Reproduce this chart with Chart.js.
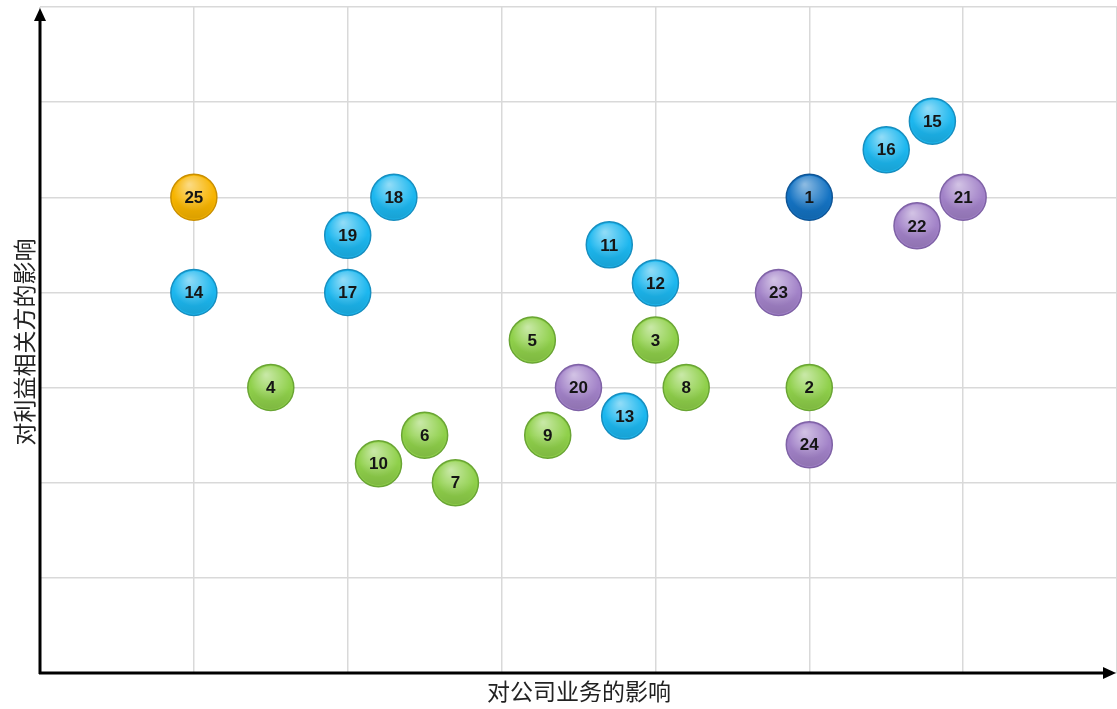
<!DOCTYPE html>
<html>
<head>
<meta charset="utf-8">
<script src="https://cdn.jsdelivr.net/npm/chart.js@4.4.0/dist/chart.umd.min.js"></script>
<style>
  html, body { margin: 0; padding: 0; background: #fff; }
  #wrap { width: 1117px; height: 709px; position: relative; }
</style>
</head>
<body>
<div id="wrap"><canvas id="matrix"></canvas></div>
<script>
// --------------------
// Data
// --------------------
const ids    = [1, 2, 3, 4, 5, 6, 7, 8, 9, 10, 11, 12, 13, 14, 15, 16, 17, 18, 19, 20, 21, 22, 23, 24, 25];
const xVals  = [5, 5, 4, 1.5, 3.2, 2.5, 2.7, 4.2, 3.3, 2.2, 3.7, 4, 3.8, 1, 5.8, 5.5, 2, 2.3, 2, 3.5, 6, 5.7, 4.8, 5, 1];
const yVals  = [5, 3, 3.5, 3, 3.5, 2.5, 2, 3, 2.5, 2.2, 4.5, 4.1, 2.7, 4, 5.8, 5.5, 4, 5, 4.6, 3, 5, 4.7, 4, 2.4, 5];
const groups = ["dark", "green", "green", "green", "green", "green", "green", "green", "green", "green",
                "cyan", "cyan", "cyan", "cyan", "cyan", "cyan", "cyan", "cyan", "cyan",
                "purple", "purple", "purple", "purple", "purple", "orange"];
const xTitle = "对公司业务的影响";
const yTitle = "对利益相关方的影响";

// --------------------
// Colours per group
// --------------------
const fills   = { dark: "#1473c3", green: "#8fd04a", cyan: "#1cb7ef", purple: "#a282c8", orange: "#f7b400" };
const borders = { dark: "#0e5596", green: "#6aa534", cyan: "#178fc0", purple: "#7f62a6", orange: "#c98f00" };

// --------------------
// Plugin: axes with arrows, titles, gloss + numbers
// --------------------
const decor = {
  id: "decor",
  beforeDatasetsDraw(chart) {
    const { ctx, chartArea: a } = chart;
    ctx.save();
    ctx.strokeStyle = "#000";
    ctx.fillStyle = "#000";
    ctx.lineWidth = 3;
    // y axis
    ctx.beginPath();
    ctx.moveTo(a.left, a.bottom + 1);
    ctx.lineTo(a.left, a.top + 10);
    ctx.stroke();
    ctx.beginPath();
    ctx.moveTo(a.left, a.top + 1);
    ctx.lineTo(a.left - 6, a.top + 14);
    ctx.lineTo(a.left + 6, a.top + 14);
    ctx.closePath();
    ctx.fill();
    // x axis
    ctx.beginPath();
    ctx.moveTo(a.left - 1, a.bottom);
    ctx.lineTo(a.right - 10, a.bottom);
    ctx.stroke();
    ctx.beginPath();
    ctx.moveTo(a.right - 1, a.bottom);
    ctx.lineTo(a.right - 14, a.bottom - 6);
    ctx.lineTo(a.right - 14, a.bottom + 6);
    ctx.closePath();
    ctx.fill();
    // titles
    ctx.font = "23px 'Noto Sans CJK SC'";
    ctx.fillStyle = "#222";
    ctx.textAlign = "center";
    ctx.textBaseline = "middle";
    ctx.fillText(xTitle, 579, 691);
    ctx.translate(24, 342);
    ctx.rotate(-Math.PI / 2);
    ctx.fillText(yTitle, 0, 0);
    ctx.restore();
  },
  afterDatasetsDraw(chart) {
    const { ctx } = chart;
    const meta = chart.getDatasetMeta(0);
    ctx.save();
    meta.data.forEach((pt, i) => {
      const r = pt.options.radius;
      // gloss highlight
      const g = ctx.createRadialGradient(pt.x - r * 0.2, pt.y - r * 0.55, 1, pt.x, pt.y - r * 0.3, r * 0.9);
      g.addColorStop(0, "rgba(255,255,255,0.5)");
      g.addColorStop(1, "rgba(255,255,255,0)");
      ctx.fillStyle = g;
      ctx.beginPath();
      ctx.arc(pt.x, pt.y, r - 1.5, 0, Math.PI * 2);
      ctx.fill();
      // shade at bottom
      const s = ctx.createLinearGradient(0, pt.y, 0, pt.y + r);
      s.addColorStop(0, "rgba(0,0,0,0)");
      s.addColorStop(1, "rgba(0,0,0,0.12)");
      ctx.fillStyle = s;
      ctx.beginPath();
      ctx.arc(pt.x, pt.y, r - 1.5, 0, Math.PI * 2);
      ctx.fill();
      // number
      ctx.fillStyle = "#151515";
      ctx.font = "bold 17px 'Liberation Sans', Arial";
      ctx.textAlign = "center";
      ctx.textBaseline = "middle";
      ctx.fillText(String(ids[i]), pt.x, pt.y + 1);
    });
    ctx.restore();
  }
};

// --------------------
// Chart.js Setup
// --------------------
const points = xVals.map((x, i) => ({ x: x, y: yVals[i] }));

new Chart(document.getElementById("matrix"), {
  type: "scatter",
  data: {
    datasets: [{
      data: points,
      clip: false,
      pointRadius: 23,
      pointHoverRadius: 23,
      pointBorderWidth: 1.5,
      backgroundColor: groups.map(g => fills[g]),
      borderColor: groups.map(g => borders[g])
    }]
  },
  options: {
    responsive: true,
    maintainAspectRatio: false,
    animation: false,
    events: [],
    layout: { autoPadding: false, padding: { left: 40, right: 0, top: 7, bottom: 36 } },
    plugins: { legend: { display: false }, tooltip: { enabled: false } },
    scales: {
      x: {
        type: "linear", min: 0, max: 7,
        ticks: { display: false, stepSize: 1 },
        border: { display: false },
        grid: { color: "#d9d9d9", lineWidth: 1.5, drawTicks: false }
      },
      y: {
        type: "linear", min: 0, max: 7,
        ticks: { display: false, stepSize: 1 },
        border: { display: false },
        grid: { color: "#d9d9d9", lineWidth: 1.5, drawTicks: false }
      }
    }
  },
  plugins: [decor]
});
</script>
</body>
</html>
